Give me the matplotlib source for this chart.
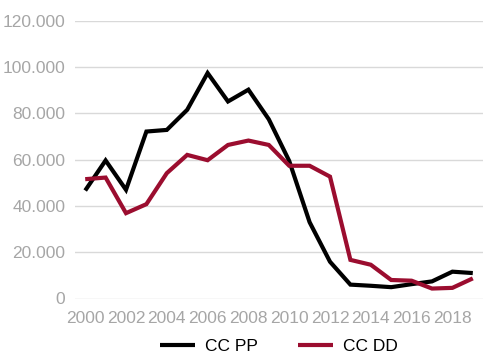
import matplotlib
matplotlib.use("Agg")
import matplotlib.pyplot as plt
from matplotlib.ticker import FuncFormatter, MultipleLocator

years = list(range(2000, 2020))
cc_pp = [46700, 59700, 47000, 72200, 72900, 81600, 97500, 85200, 90300, 77500,
         59500, 33000, 15900, 6000, 5500, 4900, 6200, 7400, 11600, 11000]
cc_dd = [51600, 52300, 36900, 40800, 54200, 62100, 59800, 66400, 68300, 66400,
         57400, 57400, 52700, 16700, 14600, 8000, 7700, 4300, 4600, 8700]
tick_years = list(range(2000, 2019, 2))
series_names = ["CC PP", "CC DD"]
colors = ["#000000", "#9B0D2F"]

plt.rcParams['font.family'] = ['Liberation Sans', 'DejaVu Sans']

fig = plt.figure(figsize=(5.0, 3.64), dpi=100)
ax = fig.add_axes([75/500, 1-298.5/364, (483-75)/500, (298.5-21)/364])

for vals, name, c in zip([cc_pp, cc_dd], series_names, colors):
    ax.plot(years, vals, color=c, lw=3.0, label=name, solid_joinstyle='miter',
            solid_capstyle='butt', zorder=3)

ax.set_xlim(1999.5, 2019.5)
ax.set_ylim(0, 120000)
ax.yaxis.set_major_locator(MultipleLocator(20000))
ax.yaxis.set_major_formatter(FuncFormatter(lambda v, p: f"{v:,.0f}".replace(",", ".")))
ax.set_xticks(tick_years)
ax.set_xticklabels([str(y) for y in tick_years])

ax.grid(axis='y', color='#D9D9D9', lw=1.0, zorder=0)
ax.set_axisbelow(True)
for s in ax.spines.values():
    s.set_visible(False)
ax.tick_params(axis='both', length=0, colors='#A6A6A6', labelsize=12.5)
ax.tick_params(axis='y', pad=7)
ax.tick_params(axis='x', pad=9)

fig.legend(loc='center', bbox_to_anchor=(279/500, 1-346.7/364), ncol=2, frameon=False,
           fontsize=12.5, handlelength=2.0, handletextpad=0.6, columnspacing=2.3,
           labelcolor='#000000')

fig.savefig("out.png", dpi=100)
